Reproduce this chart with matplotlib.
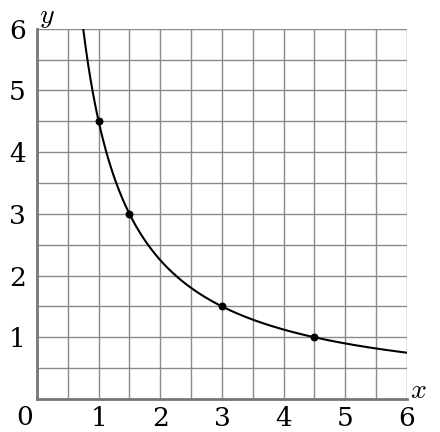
import numpy as np
import matplotlib
matplotlib.use("Agg")
import matplotlib.pyplot as plt

plt.rcParams["mathtext.fontset"] = "cm"

k = 4.5
pts_x = [1, 1.5, 3, 4.5]
pts_y = [4.5, 3, 1.5, 1]
tick_vals = [1, 2, 3, 4, 5, 6]
tick_labels = ["1", "2", "3", "4", "5", "6"]

fig = plt.figure(figsize=(4.4, 4.32), dpi=100)
ax = fig.add_axes([0.084, 0.0764, 0.841, 0.857])
ax.set_xlim(0, 6)
ax.set_ylim(0, 6)

grid = np.arange(0, 6.01, 0.5)
for g in grid:
    ax.axvline(g, color="#8a8a8a", lw=1.0, zorder=1)
    ax.axhline(g, color="#8a8a8a", lw=1.0, zorder=1)

xs = np.linspace(0.75, 6, 400)
ax.plot(xs, k / xs, color="black", lw=1.5, zorder=3)
ax.scatter(pts_x, pts_y, s=22, color="black", zorder=4)

for s in ["top", "right"]:
    ax.spines[s].set_visible(False)
for s in ["left", "bottom"]:
    ax.spines[s].set_color("#777777")
    ax.spines[s].set_linewidth(2)

font = dict(family="DejaVu Serif", size=19)
ax.set_xticks(tick_vals)
ax.set_xticklabels(tick_labels, **font)
ax.set_yticks(tick_vals)
ax.set_yticklabels(tick_labels, **font)
ax.tick_params(length=0, pad=5)
ax.tick_params(axis="y", pad=8)
ax.text(-0.2, -0.1, "0", ha="center", va="top", clip_on=False, **font)
ax.text(6.05, 0.15, r"$x$", fontsize=20, ha="left", va="center", clip_on=False)
ax.text(0.03, 6.2, r"$y$", fontsize=20, ha="left", va="center", clip_on=False)

fig.savefig("out.png", dpi=100)
